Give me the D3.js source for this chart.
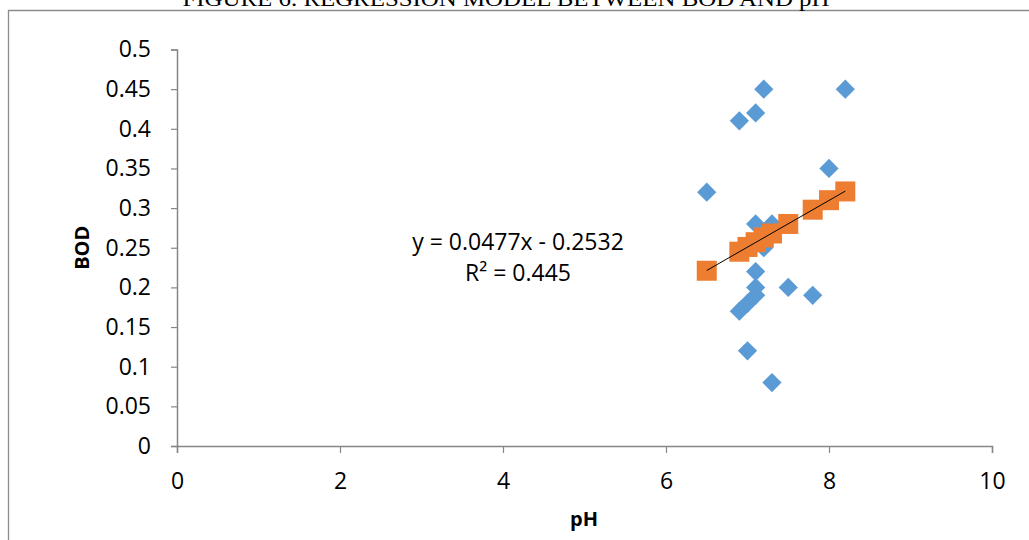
<!DOCTYPE html>
<html>
<head>
<meta charset="utf-8">
<script src="https://cdn.jsdelivr.net/npm/d3@7"></script>
<style>
  body { margin: 0; background: #fff; }
  svg text { font-family: "Open Sans", "Liberation Sans", Arial, sans-serif; fill: #000; }
</style>
</head>
<body>
<div id="chart"></div>
<script>
// observed BOD vs pH (blue diamonds)
const phObs  = [6.5, 6.9, 7.1, 7.2, 8.2, 8.0, 7.1, 7.3, 7.2, 7.1, 7.1, 7.5, 7.8, 6.9, 7.0, 7.1, 7.0, 7.3]
const bodObs = [0.32, 0.41, 0.42, 0.45, 0.45, 0.35, 0.28, 0.28, 0.25, 0.22, 0.20, 0.20, 0.19, 0.17, 0.18, 0.19, 0.12, 0.08]

// predicted BOD (orange squares)
const phPred  = [6.5, 6.9, 7.0, 7.1, 7.2, 7.3, 7.5, 7.8, 8.0, 8.2]
const bodPred = [0.221, 0.245, 0.251, 0.257, 0.263, 0.268, 0.280, 0.298, 0.310, 0.321]

const xTicks = [0, 2, 4, 6, 8, 10]
const yTicks = [0, 0.05, 0.1, 0.15, 0.2, 0.25, 0.3, 0.35, 0.4, 0.45, 0.5]

const title = "FIGURE 6. REGRESSION MODEL BETWEEN BOD AND pH"
const eqText = "y = 0.0477x - 0.2532"
const r2Text = "R² = 0.445"

const width = 1029, height = 540
const margin = {top: 49.5, right: 37, bottom: 94, left: 177}

const svg = d3.select("#chart").append("svg")
    .attr("width", width)
    .attr("height", height)

// outer chart frame (partly cut off like the original)
svg.append("path")
    .attr("d", "M8.5,560 L8.5,10.5 L1040,10.5")
    .attr("fill", "none")
    .attr("stroke", "#8c8c8c")
    .attr("stroke-width", 1.3)

svg.append("text")
    .attr("x", 506).attr("y", 6)
    .attr("text-anchor", "middle")
    .style("font-family", "'Liberation Serif', 'DejaVu Serif', serif")
    .style("font-size", "20px")
    .attr("textLength", 647)
    .attr("lengthAdjust", "spacingAndGlyphs")
    .text(title)

const x = d3.scaleLinear().domain([0, 10]).range([margin.left, width - margin.right])
const y = d3.scaleLinear().domain([0, 0.5]).range([height - margin.bottom, margin.top])

const xAxis = svg.append("g")
    .attr("transform", `translate(0,${y(0)})`)
    .call(d3.axisBottom(x).tickValues(xTicks).tickSizeOuter(0).tickSize(7).tickPadding(20).tickFormat(d3.format("d")))
const yAxis = svg.append("g")
    .attr("transform", `translate(${x(0)},0)`)
    .call(d3.axisLeft(y).tickValues(yTicks).tickSizeOuter(0).tickSize(6).tickPadding(20).tickFormat(d => d === 0 ? "0" : String(+d.toFixed(2))))

for (const g of [xAxis, yAxis]) {
    g.select(".domain").attr("stroke", "#868686").attr("stroke-width", 1.5)
    g.selectAll(".tick line").attr("stroke", "#868686").attr("stroke-width", 1.2)
    g.selectAll(".tick text").style("font-size", "23px").style("font-family", "'Open Sans', 'Liberation Sans', sans-serif").attr("fill", "#000")
}

// axis titles
svg.append("text")
    .attr("x", 584).attr("y", 526)
    .attr("text-anchor", "middle")
    .style("font-size", "20px").style("font-weight", "bold")
    .text("pH")
svg.append("text")
    .attr("transform", `translate(89,${(y(0) + y(0.5)) / 2}) rotate(-90)`)
    .attr("text-anchor", "middle")
    .style("font-size", "20px").style("font-weight", "bold")
    .text("BOD")

// blue diamonds
const obs = phObs.map((p, i) => ({x: p, y: bodObs[i]}))
svg.append("g").selectAll("path")
    .data(obs)
    .join("path")
    .attr("transform", d => `translate(${x(d.x)},${y(d.y)}) rotate(45)`)
    .attr("d", "M-6.8,-6.8H6.8V6.8H-6.8Z")
    .attr("fill", "#5b9bd5")

// orange squares
const pred = phPred.map((p, i) => ({x: p, y: bodPred[i]}))
svg.append("g").selectAll("rect")
    .data(pred)
    .join("rect")
    .attr("x", d => x(d.x) - 10)
    .attr("y", d => y(d.y) - 10)
    .attr("width", 20).attr("height", 20)
    .attr("fill", "#ed7d31")

// linear trendline through the predicted series
const mx = d3.mean(phPred), my = d3.mean(bodPred)
const slope = d3.sum(phPred, (p, i) => (p - mx) * (bodPred[i] - my)) / d3.sum(phPred, p => (p - mx) ** 2)
const icpt = my - slope * mx
const x0 = d3.min(phPred), x1 = d3.max(phPred)
svg.append("line")
    .attr("x1", x(x0)).attr("y1", y(icpt + slope * x0))
    .attr("x2", x(x1)).attr("y2", y(icpt + slope * x1))
    .attr("stroke", "#000").attr("stroke-width", 1)

// equation label
svg.append("text")
    .attr("x", 518).attr("y", 250)
    .attr("text-anchor", "middle")
    .style("font-size", "23px")
    .text(eqText)
svg.append("text")
    .attr("x", 518).attr("y", 281)
    .attr("text-anchor", "middle")
    .style("font-size", "23px")
    .text(r2Text)
</script>
</body>
</html>
